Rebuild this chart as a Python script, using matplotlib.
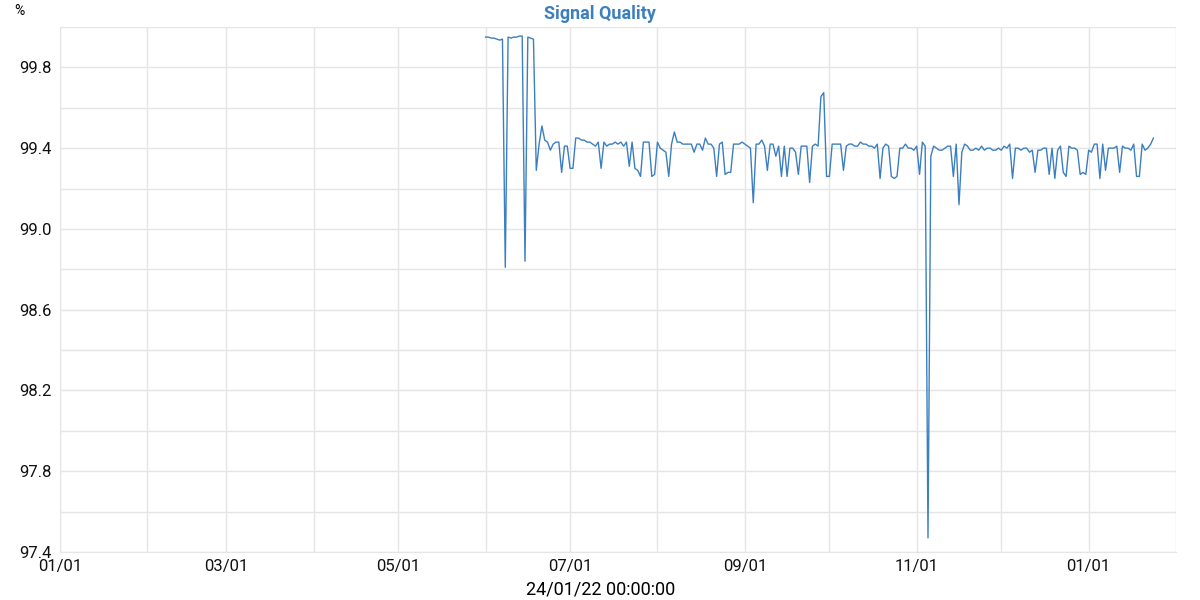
import numpy as np
import pandas as pd
import matplotlib
matplotlib.use("Agg")
from matplotlib import pyplot as plt
import matplotlib.dates as mdates
from matplotlib.ticker import MultipleLocator, FixedLocator

plt.rcParams['font.family'] = ['Roboto', 'DejaVu Sans']

# daily signal quality (%) starting 2023-06-01
start_date = "2023-06-01"
quality = [
    99.95, 99.95, 99.945, 99.945, 99.94, 99.935, 99.94, 98.81, 99.95, 99.945,
    99.95, 99.95, 99.955, 99.955, 98.84, 99.95, 99.945, 99.94, 99.29, 99.42,
    99.51, 99.44, 99.43, 99.39, 99.42, 99.43, 99.43, 99.28, 99.41, 99.41,
    99.30, 99.30, 99.45, 99.45, 99.44, 99.44, 99.43, 99.43, 99.42, 99.41,
    99.43, 99.30, 99.43, 99.41, 99.42, 99.42, 99.43, 99.42, 99.43, 99.41,
    99.43, 99.31, 99.43, 99.30, 99.29, 99.26, 99.43, 99.43, 99.43, 99.26,
    99.27, 99.43, 99.40, 99.39, 99.38, 99.26, 99.42, 99.48, 99.43, 99.43,
    99.42, 99.42, 99.42, 99.42, 99.38, 99.42, 99.42, 99.39, 99.45, 99.42,
    99.42, 99.40, 99.26, 99.42, 99.43, 99.27, 99.28, 99.28, 99.42, 99.42,
    99.42, 99.43, 99.42, 99.41, 99.40, 99.13, 99.42, 99.42, 99.44, 99.41,
    99.29, 99.42, 99.42, 99.36, 99.41, 99.26, 99.41, 99.26, 99.40, 99.40,
    99.38, 99.27, 99.41, 99.41, 99.41, 99.23, 99.41, 99.42, 99.41, 99.655,
    99.675, 99.26, 99.26, 99.42, 99.42, 99.42, 99.42, 99.29, 99.41, 99.42,
    99.42, 99.41, 99.41, 99.43, 99.42, 99.42, 99.41, 99.41, 99.40, 99.42,
    99.25, 99.40, 99.42, 99.41, 99.26, 99.25, 99.26, 99.40, 99.40, 99.42,
    99.40, 99.40, 99.39, 99.41, 99.27, 99.43, 99.41, 97.47, 99.36, 99.41,
    99.40, 99.39, 99.39, 99.40, 99.41, 99.41, 99.26, 99.42, 99.12, 99.38,
    99.42, 99.41, 99.39, 99.39, 99.40, 99.39, 99.41, 99.39, 99.40, 99.40,
    99.39, 99.39, 99.40, 99.39, 99.41, 99.40, 99.42, 99.25, 99.40, 99.40,
    99.39, 99.40, 99.40, 99.38, 99.39, 99.28, 99.39, 99.39, 99.40, 99.40,
    99.27, 99.40, 99.25, 99.39, 99.41, 99.28, 99.26, 99.41, 99.40, 99.40,
    99.39, 99.27, 99.28, 99.27, 99.39, 99.38, 99.42, 99.42, 99.25, 99.42,
    99.29, 99.40, 99.40, 99.40, 99.41, 99.28, 99.41, 99.40, 99.40, 99.39,
    99.42, 99.26, 99.26, 99.42, 99.39, 99.40, 99.42, 99.45,
]
dates = pd.date_range(start_date, periods=len(quality), freq="D")

x_start = pd.Timestamp("2023-01-01")
x_end = pd.Timestamp("2024-02-01")
y_min, y_max = 97.4, 100.0
y_labels = [97.4, 97.8, 98.2, 98.6, 99.0, 99.4, 99.8]

blue = "#3b7fc0"
grid_col = "#e5e5e5"

fig = plt.figure(figsize=(12, 6), dpi=100)
ax = fig.add_axes([0.05, 0.08, 0.93, 0.875])

ax.plot(dates, quality, color=blue, linewidth=1.0)

ax.set_xlim(x_start, x_end)
ax.set_ylim(y_min, y_max)

ax.xaxis.set_major_locator(mdates.MonthLocator(bymonth=[1, 3, 5, 7, 9, 11]))
ax.xaxis.set_minor_locator(mdates.MonthLocator())
ax.xaxis.set_major_formatter(mdates.DateFormatter("%m/%d"))
ax.yaxis.set_major_locator(FixedLocator(y_labels))
ax.yaxis.set_minor_locator(MultipleLocator(0.2))
ax.yaxis.set_major_formatter(plt.FormatStrFormatter("%.1f"))

ax.grid(True, which="both", color=grid_col, linewidth=1.0)
ax.set_axisbelow(True)
ax.tick_params(which="both", length=0, labelsize=12, colors="#111111")
ax.tick_params(axis="x", pad=5)
ax.tick_params(axis="y", pad=6)

for side in ["top", "right"]:
    ax.spines[side].set_visible(False)
for side in ["left", "bottom"]:
    ax.spines[side].set_color(grid_col)

# title and date label sit at the figure centre rather than the axes centre
ax.set_title("Signal Quality", color=blue, fontsize=13, fontweight="bold", pad=6, x=0.484)
ax.set_xlabel("24/01/22 00:00:00", fontsize=13, labelpad=5, x=0.484)
fig.text(0.012, 0.982, "%", fontsize=10, ha="left", va="center")

fig.savefig("out.png", dpi=100)
